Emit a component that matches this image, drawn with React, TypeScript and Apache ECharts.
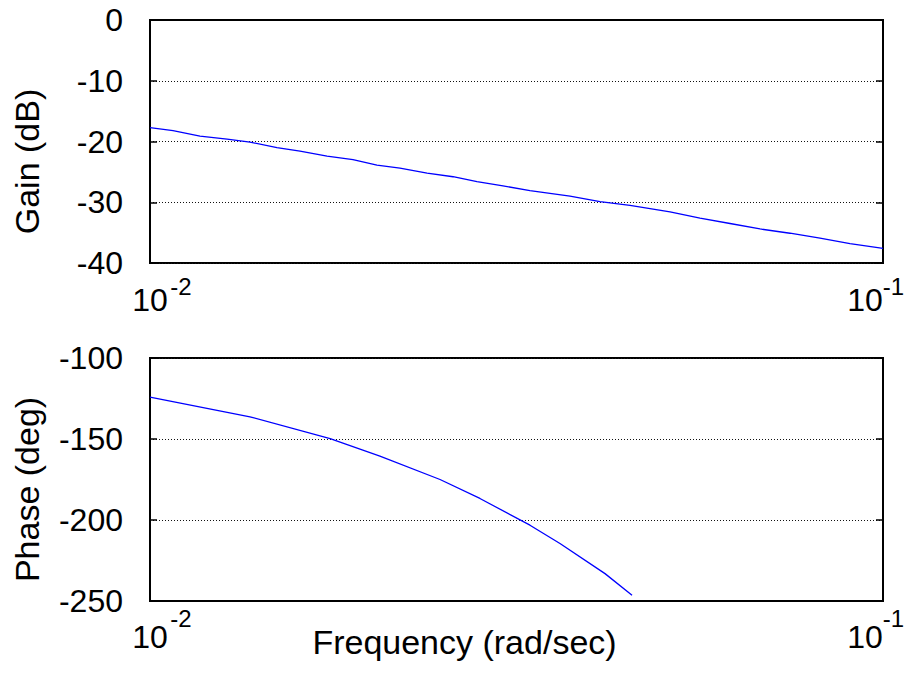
import React, { useEffect, useRef } from "react";
import * as echarts from "echarts";

// Gain curve (top plot)
const gainFreq = [0.01, 0.01075, 0.0117, 0.01274, 0.01369, 0.0149, 0.01602, 0.01744, 0.01892, 0.0204, 0.02193, 0.02388, 0.02591, 0.02793, 0.03031, 0.03299, 0.03741, 0.04111, 0.04517, 0.05122, 0.05628, 0.06184, 0.06796, 0.07467, 0.08205, 0.09015, 0.1];
const gainDb = [-17.7, -18.2, -19.1, -19.6, -20.1, -21.0, -21.6, -22.4, -23.0, -23.9, -24.4, -25.2, -25.8, -26.6, -27.3, -28.1, -29.0, -29.9, -30.5, -31.6, -32.6, -33.5, -34.4, -35.1, -35.9, -36.8, -37.6];

// Phase curve (bottom plot)
const phaseFreq = [0.01, 0.01369, 0.01761, 0.02059, 0.02487, 0.02819, 0.03299, 0.03625, 0.04176, 0.04546];
const phaseDeg = [-124.1, -136.3, -149.8, -160.6, -175.0, -186.7, -203.2, -214.5, -233.1, -246.5];

// Axis ranges / ticks
const freqRange = [0.01, 0.1];
const gainRange = [-40, 0];
const gainStep = 10;
const phaseRange = [-250, -100];
const phaseStep = 50;

const gainName = "Gain (dB)";
const phaseName = "Phase (deg)";
const freqName = "Frequency (rad/sec)";

const FONT = "'Liberation Sans', Arial, Helvetica, sans-serif";

export default function App() {
  const ref = useRef<HTMLDivElement>(null);

  useEffect(() => {
    const chart = echarts.init(ref.current!, null, { renderer: "svg" });

    const expOf = (v: number) => Math.round(Math.log10(v));

    // Axis that shows the "10" base of each decade label
    const baseAxis = (gridIndex: number, margin: number) => ({
      type: "log",
      logBase: 10,
      gridIndex,
      position: "bottom",
      min: freqRange[0],
      max: freqRange[1],
      axisLine: { show: true, lineStyle: { color: "#000", width: 2 } },
      axisTick: { show: false },
      minorTick: { show: false },
      splitLine: { show: false },
      axisLabel: {
        show: true,
        margin,
        fontSize: 32,
        lineHeight: 33,
        color: "#000",
        fontFamily: FONT,
        formatter: (v: number) => (expOf(v) <= -2 ? "{tb|10}" : "{tb|10}{gapr| }"),
        rich: {
          tb: { fontSize: 32, lineHeight: 33, fontFamily: FONT, color: "#000" },
          gapr: { width: 36, fontSize: 10 },
        },
      },
    });

    // Axis that shows the exponent (superscript) of each decade label
    const expAxis = (gridIndex: number, margin: number) => ({
      type: "log",
      logBase: 10,
      gridIndex,
      position: "bottom",
      min: freqRange[0],
      max: freqRange[1],
      axisLine: { show: false },
      axisTick: { show: false },
      minorTick: { show: false },
      splitLine: { show: false },
      axisLabel: {
        show: true,
        margin,
        fontSize: 24,
        lineHeight: 24,
        color: "#000",
        fontFamily: FONT,
        formatter: (v: number) => {
          const e = expOf(v);
          return e <= -2 ? `{gapl| }{ex|${e}}` : `{gaps| }{ex|${e}}`;
        },
        rich: {
          ex: { fontSize: 24, lineHeight: 24, fontFamily: FONT, color: "#000" },
          gapl: { width: 62, fontSize: 10 },
          gaps: { width: 21, fontSize: 10 },
        },
      },
    });

    const yLeft = (gridIndex: number, range: number[], step: number, name: string, shift: number) => ({
      type: "value",
      gridIndex,
      position: "left",
      min: range[0],
      max: range[1],
      interval: step,
      name,
      nameLocation: "middle",
      nameGap: 106,
      nameMoveOverlap: false,
      nameTextStyle: { fontSize: 34, color: "#000", fontFamily: FONT, padding: [0, shift, 0, 0] },
      axisLine: { show: true, lineStyle: { color: "#000", width: 2 } },
      axisTick: { show: true, inside: true, length: 7, lineStyle: { color: "#000", width: 1.5 } },
      axisLabel: { show: true, fontSize: 32, color: "#000", fontFamily: FONT, margin: 27, padding: [6, 0, 0, 0] },
      splitLine: { show: true, lineStyle: { color: "#111", width: 1, type: [1, 2] } },
    });

    const yRight = (gridIndex: number, range: number[], step: number) => ({
      type: "value",
      gridIndex,
      position: "right",
      min: range[0],
      max: range[1],
      interval: step,
      axisLine: { show: true, lineStyle: { color: "#000", width: 2 } },
      axisTick: { show: true, inside: true, length: 7, lineStyle: { color: "#000", width: 1.5 } },
      axisLabel: { show: false },
      splitLine: { show: false },
    });

    chart.setOption({
      animation: false,
      backgroundColor: "#fff",
      grid: [
        { left: 150, top: 20, width: 733, height: 243, show: true, borderColor: "#000", borderWidth: 2, containLabel: false, outerBoundsMode: "none" },
        { left: 150, top: 358, width: 733, height: 243, show: true, borderColor: "#000", borderWidth: 2, containLabel: false, outerBoundsMode: "none" },
      ],
      xAxis: [
        baseAxis(0, 20.5),
        expAxis(0, 11.5),
        {
          ...baseAxis(1, 19.3),
          name: freqName,
          nameLocation: "middle",
          nameGap: 24,
          nameMoveOverlap: false,
          nameTextStyle: { fontSize: 34, color: "#000", fontFamily: FONT, padding: [0, 104, 0, 0] },
        },
        expAxis(1, 5.3),
      ],
      yAxis: [
        yLeft(0, gainRange, gainStep, gainName, 40),
        yRight(0, gainRange, gainStep),
        yLeft(1, phaseRange, phaseStep, phaseName, 20),
        yRight(1, phaseRange, phaseStep),
      ],
      series: [
        {
          type: "line",
          xAxisIndex: 0,
          yAxisIndex: 0,
          data: gainFreq.map((f, i) => [f, gainDb[i]]),
          showSymbol: false,
          silent: true,
          lineStyle: { color: "#0000ff", width: 1.3 },
        },
        {
          type: "line",
          xAxisIndex: 2,
          yAxisIndex: 2,
          data: phaseFreq.map((f, i) => [f, phaseDeg[i]]),
          showSymbol: false,
          silent: true,
          lineStyle: { color: "#0000ff", width: 1.3 },
        },
      ],
    });

    return () => chart.dispose();
  }, []);

  return (
    <div
      ref={ref}
      style={{ position: "fixed", left: 0, top: 0, width: 905, height: 686, background: "#fff" }}
    />
  );
}
